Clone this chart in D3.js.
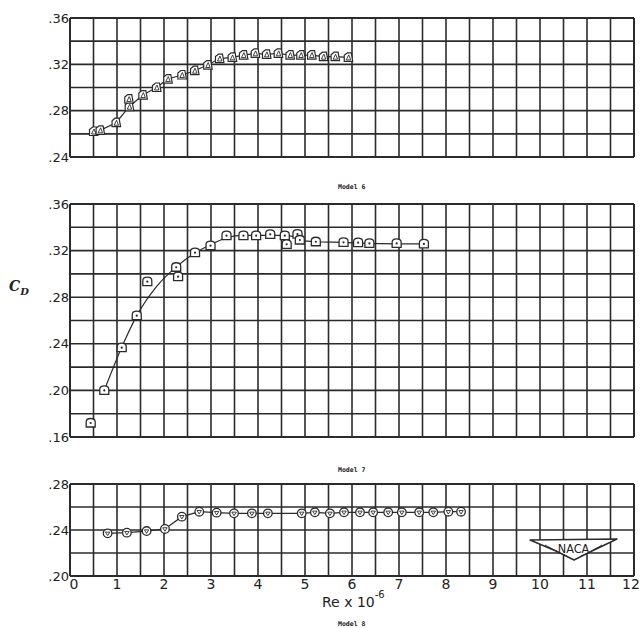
<!DOCTYPE html>
<html>
<head>
<meta charset="utf-8">
<script src="https://cdn.jsdelivr.net/npm/d3@7"></script>
<style>
  html, body { margin: 0; padding: 0; background: #fff; }
  svg { display: block; }
</style>
</head>
<body>
<svg id="chart" width="640" height="628"></svg>
<script>
// Drag coefficient vs Reynolds number for three models

// Model 6 (flagged triangles)
const model6Re = [0.50, 0.64, 0.98, 1.26, 1.55, 1.84, 2.08, 2.38, 2.65, 2.93, 3.18, 3.45, 3.69, 3.94, 4.18, 4.43, 4.68, 4.91, 5.14, 5.39, 5.64, 5.92];
const model6Cd = [0.262, 0.263, 0.2696, 0.2834, 0.2935, 0.300, 0.3073, 0.3108, 0.3145, 0.3194, 0.325, 0.326, 0.328, 0.3295, 0.3286, 0.3295, 0.328, 0.328, 0.328, 0.3266, 0.3266, 0.326];
const model6ExtraRe = [1.25];
const model6ExtraCd = [0.290];

// Model 7 (squares)
const model7Re = [0.44, 0.73, 1.10, 1.42, 1.645, 2.26, 2.30, 2.66, 2.99, 3.33, 3.69, 3.96, 4.26, 4.57, 4.61, 4.84, 4.89, 5.23, 5.82, 6.13, 6.37, 6.95, 7.53];
const model7Cd = [0.172, 0.200, 0.2367, 0.2641, 0.2933, 0.3057, 0.2976, 0.3182, 0.3242, 0.3328, 0.3328, 0.3328, 0.334, 0.3328, 0.3254, 0.3342, 0.3291, 0.3276, 0.3271, 0.3268, 0.3262, 0.3262, 0.3257];
// faired curve through the model 7 points
const model7CurveRe = [0.73, 1.10, 1.42, 1.84, 2.26, 2.66, 2.99, 3.33, 3.69, 4.57, 4.75, 4.89, 5.23, 5.82, 6.37, 7.53];
const model7CurveCd = [0.200, 0.237, 0.264, 0.289, 0.306, 0.318, 0.325, 0.331, 0.333, 0.333, 0.332, 0.329, 0.3276, 0.327, 0.3262, 0.3257];

// Model 8 (circles)
const model8Re = [0.80, 1.21, 1.63, 2.02, 2.38, 2.75, 3.12, 3.49, 3.87, 4.21, 4.93, 5.21, 5.53, 5.83, 6.17, 6.45, 6.77, 7.06, 7.43, 7.73, 8.05, 8.32];
const model8Cd = [0.2371, 0.2377, 0.2391, 0.2409, 0.2516, 0.2559, 0.2551, 0.2545, 0.2545, 0.2545, 0.2545, 0.2554, 0.2545, 0.2554, 0.2554, 0.2554, 0.2554, 0.2554, 0.2554, 0.2554, 0.2559, 0.2559];

const xTicks = [0, 1, 2, 3, 4, 5, 6, 7, 8, 9, 10, 11, 12];
const yTicks6 = [0.24, 0.28, 0.32, 0.36];
const yTicks7 = [0.16, 0.20, 0.24, 0.28, 0.32, 0.36];
const yTicks8 = [0.20, 0.24, 0.28];
const fmt = v => d3.format(".2f")(v).replace(/^0/, "");

const svg = d3.select("#chart");
const ink = "#2b2b2b";
const x = d3.scaleLinear().domain([0, 12]).range([70, 634]);

const panels = [
  { top: 18, bottom: 157, dom: [0.24, 0.36], ticks: yTicks6, title: "Model 6", titleY: 189 },
  { top: 204, bottom: 437, dom: [0.16, 0.36], ticks: yTicks7, title: "Model 7", titleY: 472 },
  { top: 484, bottom: 576, dom: [0.20, 0.28], ticks: yTicks8, title: "Model 8", titleY: 626 }
];
panels.forEach(p => { p.y = d3.scaleLinear().domain(p.dom).range([p.bottom, p.top]); });

function drawGrid(p) {
  const g = svg.append("g");
  const xs = d3.range(0, 12.001, 0.5);
  const ys = d3.range(Math.round(p.dom[0] * 100), Math.round(p.dom[1] * 100) + 1, 2).map(v => v / 100);
  g.selectAll("line.v").data(xs).join("line")
    .attr("x1", d => x(d)).attr("x2", d => x(d))
    .attr("y1", p.top).attr("y2", p.bottom)
    .attr("stroke", ink).attr("stroke-width", d => (d === 0 || d === 12) ? 2 : 1.6);
  g.selectAll("line.h").data(ys).join("line")
    .attr("x1", x(0)).attr("x2", x(12))
    .attr("y1", d => p.y(d)).attr("y2", d => p.y(d))
    .attr("stroke", ink).attr("stroke-width", (d, i) => (i === 0 || i === ys.length - 1) ? 2 : 1.6);
  // y tick labels
  g.selectAll("text.yl").data(p.ticks).join("text")
    .attr("x", 69).attr("y", d => p.y(d))
    .attr("dy", "0.36em")
    .attr("text-anchor", "end")
    .attr("font-family", "DejaVu Sans, sans-serif")
    .attr("font-size", 13)
    .attr("fill", "#222")
    .text(fmt);
  // panel caption
  g.append("text")
    .attr("x", 338).attr("y", p.titleY)
    .attr("font-family", "DejaVu Sans Mono, monospace")
    .attr("font-weight", "bold")
    .attr("font-size", 6.5)
    .attr("fill", "#222")
    .text(p.title);
}
panels.forEach(drawGrid);

function pts(re, cd) { return re.map((r, i) => [r, cd[i]]); }

// Model 6
{
  const p = panels[0];
  const line = d3.line().x(d => x(d[0])).y(d => p.y(d[1]));
  const data = pts(model6Re, model6Cd);
  svg.append("path").attr("d", line(data)).attr("fill", "none").attr("stroke", ink).attr("stroke-width", 1.2);
  const all = data.concat(pts(model6ExtraRe, model6ExtraCd));
  const g = svg.append("g").selectAll("g").data(all).join("g")
    .attr("transform", d => `translate(${x(d[0])},${p.y(d[1])})`);
  g.append("path").attr("d", "M-4,4 L-4,-2 L-1,-4.5 L3,-4.5 L4.5,4 Z")
    .attr("fill", "#fff").attr("stroke", ink).attr("stroke-width", 1.2);
  g.append("path").attr("d", "M-2,2.5 L0.5,-2.5 L2.5,2.5 Z")
    .attr("fill", "none").attr("stroke", ink).attr("stroke-width", 0.9);
}

// Model 7
{
  const p = panels[1];
  const line = d3.line().x(d => x(d[0])).y(d => p.y(d[1])).curve(d3.curveMonotoneX);
  svg.append("path").attr("d", line(pts(model7CurveRe, model7CurveCd)))
    .attr("fill", "none").attr("stroke", ink).attr("stroke-width", 1.2);
  const g = svg.append("g").selectAll("g").data(pts(model7Re, model7Cd)).join("g")
    .attr("transform", d => `translate(${x(d[0])},${p.y(d[1])})`);
  g.append("path").attr("d", "M-4.5,4 L-4.5,-1 Q-4.5,-4.5 0,-4.5 Q4.5,-4.5 4.5,-1 L4.5,4 Z")
    .attr("fill", "#fff").attr("stroke", ink).attr("stroke-width", 1.3);
  g.append("circle").attr("r", 1.1).attr("fill", ink);
}

// Model 8
{
  const p = panels[2];
  const line = d3.line().x(d => x(d[0])).y(d => p.y(d[1]));
  const data = pts(model8Re, model8Cd);
  svg.append("path").attr("d", line(data)).attr("fill", "none").attr("stroke", ink).attr("stroke-width", 1.2);
  const g = svg.append("g").selectAll("g").data(data).join("g")
    .attr("transform", d => `translate(${x(d[0])},${p.y(d[1])})`);
  g.append("circle").attr("r", 4.3).attr("fill", "#fff").attr("stroke", ink).attr("stroke-width", 1.3);
  g.append("path").attr("d", "M-2.2,-1.2 L2.2,-1.2 L0,2.3 Z")
    .attr("fill", "none").attr("stroke", ink).attr("stroke-width", 0.9);
}

// x tick labels
svg.append("g").selectAll("text").data(xTicks).join("text")
  .attr("x", d => d === 0 ? x(d) + 4 : (d === 12 ? x(d) - 3 : x(d)))
  .attr("y", 589)
  .attr("text-anchor", "middle")
  .attr("font-family", "DejaVu Sans, sans-serif")
  .attr("font-size", 14)
  .attr("fill", "#222")
  .text(d => d);

// x axis title
{
  const t = svg.append("text")
    .attr("x", 322).attr("y", 607)
    .attr("font-family", "DejaVu Sans, sans-serif")
    .attr("font-size", 14)
    .attr("fill", "#222");
  t.append("tspan").text("Re x 10");
  t.append("tspan").attr("dy", -9).attr("font-size", 10).text("-6");
}

// y axis title
{
  const t = svg.append("text")
    .attr("x", 9).attr("y", 291)
    .attr("font-family", "DejaVu Serif, serif")
    .attr("font-style", "italic")
    .attr("font-weight", "bold")
    .attr("font-size", 14)
    .attr("fill", "#222");
  t.append("tspan").text("C");
  t.append("tspan").attr("dy", 4).attr("font-size", 10).text("D");
}

// NACA emblem
{
  const g = svg.append("g");
  g.append("path")
    .attr("d", "M530,540 L617,539 L592,551 L574,560 L556,551 Z")
    .attr("fill", "#fff").attr("stroke", ink).attr("stroke-width", 1.4).attr("stroke-linejoin", "round");
  g.append("path")
    .attr("d", "M545,545 L560,553 L567,556 M602,545 L588,553 L581,556")
    .attr("fill", "none").attr("stroke", ink).attr("stroke-width", 0.9);
  g.append("text")
    .attr("x", 573.5).attr("y", 553)
    .attr("text-anchor", "middle")
    .attr("font-family", "DejaVu Sans Condensed, DejaVu Sans, sans-serif")
    .attr("font-size", 12.5)
    .attr("fill", "#222")
    .text("NACA");
}
</script>
</body>
</html>
